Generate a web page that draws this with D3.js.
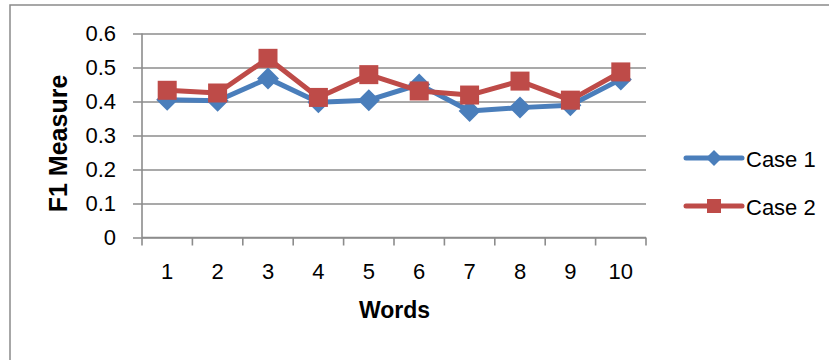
<!DOCTYPE html>
<html>
<head>
<meta charset="utf-8">
<script src="https://cdn.jsdelivr.net/npm/d3@7"></script>
<style>
  html, body { margin: 0; padding: 0; background: #fff; }
  svg { display: block; font-family: "Liberation Sans", Arial, sans-serif; }
</style>
</head>
<body>
<svg id="chart" width="829" height="360"></svg>
<script>
// F1 measure per word for the two test cases
const words = ["1", "2", "3", "4", "5", "6", "7", "8", "9", "10"];
const case1 = [0.405, 0.402, 0.468, 0.398, 0.404, 0.450, 0.372, 0.382, 0.389, 0.465];
const case2 = [0.433, 0.425, 0.527, 0.412, 0.479, 0.431, 0.419, 0.460, 0.404, 0.487];
const yTicks = [0, 0.1, 0.2, 0.3, 0.4, 0.5, 0.6];
const seriesNames = ["Case 1", "Case 2"];

const svg = d3.select("#chart");
const blue = "#4a7ebb", red = "#be4b48", grid = "#8c8c8c";

// outer frame of the chart object
svg.append("rect")
  .attr("x", 10).attr("y", 5).attr("width", 840).attr("height", 380)
  .attr("fill", "none").attr("stroke", "#8a8a8a").attr("stroke-width", 1.5);

const x = d3.scaleBand().domain(words).range([142, 646]);
const y = d3.scaleLinear().domain([0, 0.6]).range([237.5, 33.5]);

// horizontal gridlines with left tick stubs
const yAxis = d3.axisLeft(y).tickValues(yTicks)
  .tickFormat(d => d === 0 ? "0" : d3.format(".1f")(d))
  .tickSize(-(646 - 133)).tickPadding(17);
const gy = svg.append("g").attr("transform", "translate(133,0)").call(yAxis);
gy.select(".domain").remove();
gy.selectAll(".tick line").attr("stroke", grid).attr("stroke-width", 1.6);
gy.selectAll(".tick text").attr("font-size", 22).attr("fill", "#000")
  .attr("font-family", "Liberation Sans, Arial, sans-serif");

// vertical axis line
svg.append("line").attr("x1", 142).attr("x2", 142).attr("y1", 33.5).attr("y2", 237.5)
  .attr("stroke", grid).attr("stroke-width", 1.6);

// category axis: ticks between categories, labels centred
const gx = svg.append("g").attr("transform", "translate(0,237.5)");
gx.append("line").attr("x1", 142).attr("x2", 646).attr("stroke", grid).attr("stroke-width", 1.6);
const boundaries = words.map(w => x(w)).concat([x(words[words.length - 1]) + x.bandwidth()]);
gx.selectAll("line.tk").data(boundaries).join("line").attr("class", "tk")
  .attr("x1", d => d).attr("x2", d => d).attr("y1", 0).attr("y2", 8)
  .attr("stroke", grid).attr("stroke-width", 1.6);
gx.selectAll("text").data(words).join("text")
  .attr("x", d => x(d) + x.bandwidth() / 2).attr("y", 41)
  .attr("text-anchor", "middle").attr("font-size", 22).text(d => d);

// axis titles
svg.append("text").attr("x", 394.5).attr("y", 318).attr("text-anchor", "middle")
  .attr("font-size", 23).attr("font-weight", "bold").text("Words");
svg.append("text").attr("transform", "translate(67,143.5) rotate(-90)")
  .attr("text-anchor", "middle").attr("font-size", 25).attr("font-weight", "bold")
  .text("F1 Measure");

const line = d3.line().x((d, i) => x(words[i]) + x.bandwidth() / 2).y(d => y(d));

function diamond(g, cx, cy, r, color) {
  g.append("path").attr("d", `M${cx},${cy - r}L${cx + r},${cy}L${cx},${cy + r}L${cx - r},${cy}Z`)
    .attr("fill", color);
}
function square(g, cx, cy, s, color) {
  g.append("rect").attr("x", cx - s / 2).attr("y", cy - s / 2).attr("width", s).attr("height", s)
    .attr("fill", color);
}

// Case 1 series
const g1 = svg.append("g");
g1.append("path").datum(case1).attr("d", line).attr("fill", "none")
  .attr("stroke", blue).attr("stroke-width", 5).attr("stroke-linejoin", "round");
case1.forEach((v, i) => diamond(g1, x(words[i]) + x.bandwidth() / 2, y(v), 11, blue));

// Case 2 series
const g2 = svg.append("g");
g2.append("path").datum(case2).attr("d", line).attr("fill", "none")
  .attr("stroke", red).attr("stroke-width", 5).attr("stroke-linejoin", "round");
case2.forEach((v, i) => square(g2, x(words[i]) + x.bandwidth() / 2, y(v), 19, red));

// legend
const legendY = [158, 206];
const colors = [blue, red];
seriesNames.forEach((name, i) => {
  const lg = svg.append("g");
  lg.append("line").attr("x1", 686).attr("x2", 742).attr("y1", legendY[i]).attr("y2", legendY[i])
    .attr("stroke", colors[i]).attr("stroke-width", 5).attr("stroke-linecap", "round");
  if (i === 0) diamond(lg, 714, legendY[i], 8, colors[i]);
  else square(lg, 714, legendY[i], 14, colors[i]);
  lg.append("text").attr("x", 746).attr("y", legendY[i] + 8.5).attr("font-size", 22).text(name);
});
</script>
</body>
</html>
